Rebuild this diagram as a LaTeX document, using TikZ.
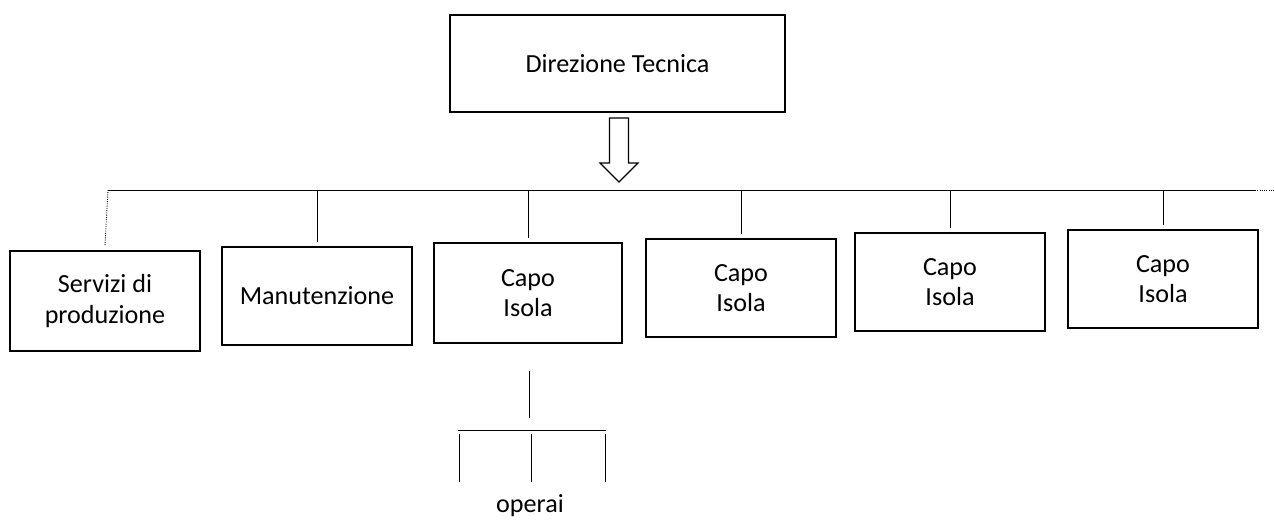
\documentclass[tikz,border=0pt]{standalone}
\usepackage{fontspec}
\setmainfont{Carlito}
\usetikzlibrary{positioning}
\begin{document}
\begin{tikzpicture}[x=0.75pt,y=-0.75pt,
	box/.style={draw,line width=1.4pt,align=center,inner sep=0,
	minimum width=#1*0.75pt,font=\fontsize{19.6}{23}\selectfont},
	box/.default=190,
	link/.style={line width=0.7pt}]
\useasboundingbox (0,0) rectangle (1274,519);
\node[box=335,minimum height=73pt] (dir) at (617.5,63.5) {Direzione Tecnica};
\node[box,minimum height=75pt] (serv) at (105,301) {Servizi di\\produzione};
\node[box,minimum height=74pt] (man) at (317,296) {Manutenzione};
\node[box=188,minimum height=75pt] (capoA) at (528,293) {Capo\\Isola};
\node[box,minimum height=74pt] (capoB) at (741,288) {Capo\\Isola};
\node[box,minimum height=73.5pt] (capoC) at (950,282) {Capo\\Isola};
\node[box,minimum height=73.5pt] (capoD) at (1163,279) {Capo\\Isola};
\node[font=\fontsize{19.6}{23}\selectfont] (op) at (530,506) {operai};
% bus
\coordinate (busL) at (108,190);
\coordinate (busR) at (1255,190);
\draw[link] (busL) -- (busR);
\draw[link,densely dotted] (busR) -- ++(19,0);
% hollow arrow
\coordinate (tip) at (619,182);
\draw[line width=0.9pt] (tip) -- ++(-19,-19) -- ++(9.5,0) -- ++(0,-45)
	-- ++(19,0) -- ++(0,45) -- ++(9.5,0) -- cycle;
% drops
\draw[link,densely dotted] (serv.north) ++(0,-5) -- (busL);
\foreach \b in {man,capoA,capoB,capoC,capoD}
	\draw[link] (\b.north) ++(0,-4) -- (\b.north |- busL);
% operai
\coordinate (opbar) at (531,430);
\draw[link] (capoA.south) ++(1,27) -- ++(0,47);
\draw[link] (opbar) ++(-73,0) -- ++(148,0);
\foreach \dx in {-72,0,74}
	\draw[link] (opbar) ++(\dx,4) -- ++(0,48);
\end{tikzpicture}
\end{document}
